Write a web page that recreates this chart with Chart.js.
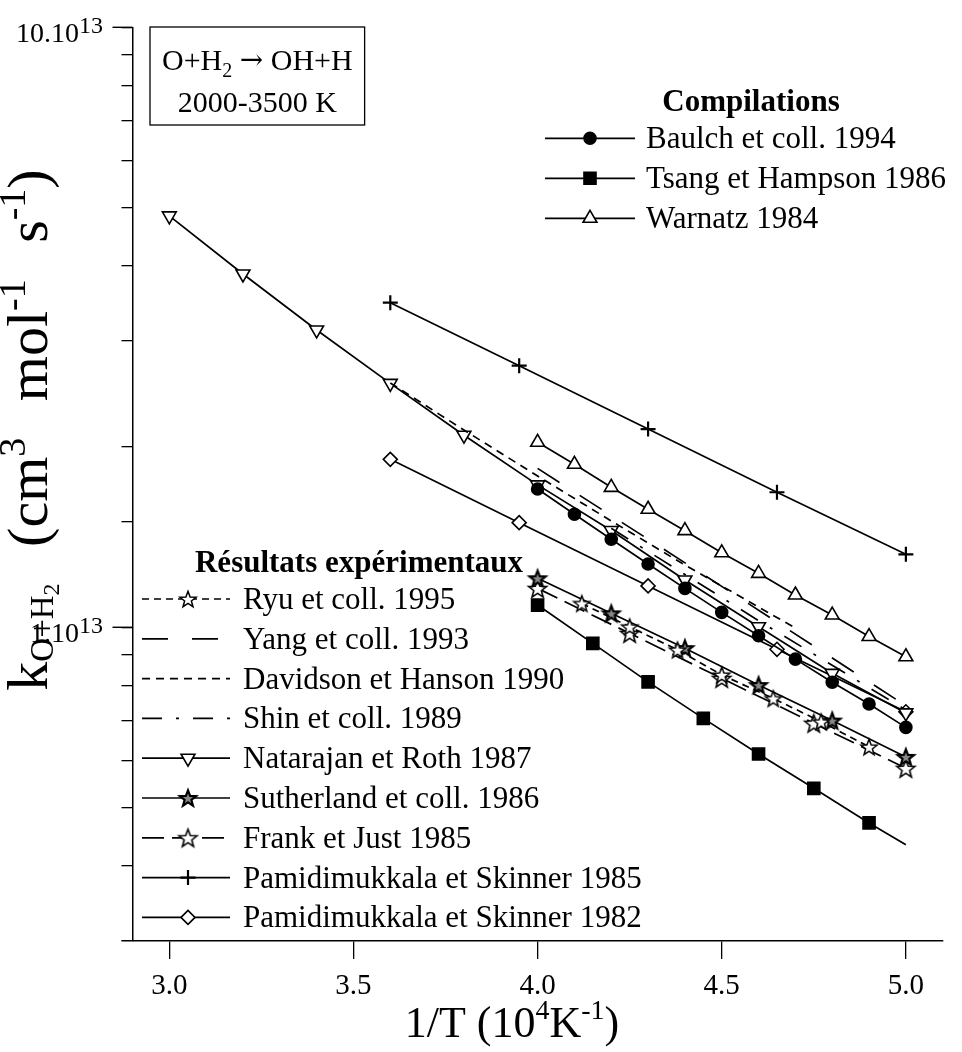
<!DOCTYPE html>
<html><head><meta charset="utf-8">
<script src="https://cdn.jsdelivr.net/npm/chart.js@4.4.0/dist/chart.umd.min.js"></script>
<style>html,body{margin:0;padding:0;background:#fff;}#wrap{width:962px;height:1052px;}</style>
</head><body><div id="wrap"><canvas id="c" width="962" height="1052"></canvas></div>
<script>
// ---------- data (k in units of 10^13 cm3 mol-1 s-1, x = 1/T in 10^-4 K^-1) ----------
const xTickValues = [3.0, 3.5, 4.0, 4.5, 5.0];
const yLabelValues = [10, 1];
const yLabelMantissa = ['10.10', '1.10'];
const yLabelExponent = ['13', '13'];

const baulchX = [4.0, 4.1, 4.2, 4.3, 4.4, 4.5, 4.6, 4.7, 4.8, 4.9, 5.0];
const baulchK = [1.70, 1.543, 1.402, 1.275, 1.161, 1.059, 0.968, 0.885, 0.810, 0.745, 0.681];
const tsangX = [4.0, 4.15, 4.3, 4.45, 4.6, 4.75, 4.9, 5.0];
const tsangK = [1.089, 0.940, 0.811, 0.705, 0.615, 0.539, 0.472, 0.434];
const warnatzX = [4.0, 4.1, 4.2, 4.3, 4.4, 4.5, 4.6, 4.7, 4.8, 4.9, 5.0];
const warnatzK = [2.034, 1.869, 1.711, 1.573, 1.449, 1.331, 1.230, 1.132, 1.048, 0.965, 0.893];

const ryuX = [4.12, 4.25, 4.38, 4.5, 4.64, 4.77, 4.9];
const ryuK = [1.096, 1.002, 0.917, 0.833, 0.761, 0.696, 0.632];
const yangX = [4.0, 4.5, 5.0];
const yangK = [1.84, 1.17, 0.74];
const davidsonX = [3.6, 3.8, 4.0, 4.2, 4.4, 4.7];
const davidsonK = [2.554, 2.132, 1.787, 1.504, 1.270, 0.997];
const shinX = [4.2, 4.6, 5.0];
const shinK = [1.462, 1.026, 0.728];
const natarajanX = [3.0, 3.2, 3.4, 3.6, 3.8, 4.0, 4.2, 4.4, 4.6, 4.8, 5.0];
const natarajanK = [4.85, 3.88, 3.13, 2.55, 2.09, 1.727, 1.45, 1.199, 1.002, 0.838, 0.72];
const sutherlandX = [4.0, 4.2, 4.4, 4.6, 4.8, 5.0];
const sutherlandK = [1.207, 1.055, 0.923, 0.801, 0.699, 0.608];
const frankX = [4.0, 4.25, 4.5, 4.75, 5.0];
const frankK = [1.161, 0.977, 0.822, 0.692, 0.582];
const pamid85X = [3.6, 3.95, 4.3, 4.65, 5.0];
const pamid85K = [3.475, 2.729, 2.14, 1.679, 1.323];
const pamid82X = [3.6, 3.95, 4.3, 4.65, 5.0];
const pamid82K = [1.905, 1.494, 1.172, 0.919, 0.723];

const compilationsTitle = 'Compilations';
const experimentsTitle = 'Résultats expérimentaux';
const compilationLabels = ['Baulch et coll. 1994', 'Tsang et Hampson 1986', 'Warnatz 1984'];
const experimentLabels = ['Ryu et coll. 1995', 'Yang et coll. 1993', 'Davidson et Hanson 1990', 'Shin et coll. 1989',
  'Natarajan et Roth 1987', 'Sutherland et coll. 1986', 'Frank et Just 1985', 'Pamidimukkala et Skinner 1985', 'Pamidimukkala et Skinner 1982'];

// ---------- styling ----------
const FONT = "'Liberation Serif', 'Times New Roman', Times, serif";
const ARROW_FONT = "'DejaVu Serif', 'Liberation Serif', serif";

function makeStar(R, ratio, lw, fill) {
  const size = Math.ceil(2 * R + lw * 2 + 4);
  const c = document.createElement('canvas');
  c.width = size; c.height = size;
  const g = c.getContext('2d');
  const cx = size / 2, cy = size / 2 + R * 0.1;
  g.beginPath();
  for (let i = 0; i < 10; i++) {
    const r = i % 2 === 0 ? R : R * ratio;
    const a = -Math.PI / 2 + i * Math.PI / 5;
    const px = cx + r * Math.cos(a), py = cy + r * Math.sin(a);
    if (i === 0) g.moveTo(px, py); else g.lineTo(px, py);
  }
  g.closePath();
  g.fillStyle = fill; g.fill();
  g.lineWidth = lw; g.strokeStyle = '#000'; g.lineJoin = 'miter'; g.stroke();
  return c;
}
const starRyu = makeStar(8.5, 0.42, 1.5, '#fff');
const starSuth = makeStar(8.5, 0.42, 2.2, '#888');
const starFrank = makeStar(9.5, 0.42, 1.6, '#fff');

function series(label, xs, ks, style) {
  return Object.assign({
    label, data: xs.map((x, i) => ({ x: x, y: ks[i] })),
    borderColor: '#000', backgroundColor: '#fff', pointBackgroundColor: '#fff', pointBorderColor: '#000',
    borderWidth: 1.7, pointBorderWidth: 1.6, tension: 0, fill: false, pointRadius: 0,
    legendRadius: 0
  }, style);
}

const datasets = [
  series(compilationLabels[0], baulchX, baulchK, { pointStyle: 'circle', pointRadius: 6, legendRadius: 6, pointBackgroundColor: '#000', legendFill: '#000' }),
  series(compilationLabels[1], tsangX, tsangK, { pointStyle: 'rect', pointRadius: (c) => c.dataIndex === tsangX.length - 1 ? 0 : 8.5, legendRadius: 8.5, pointBackgroundColor: '#000', legendFill: '#000' }),
  series(compilationLabels[2], warnatzX, warnatzK, { pointStyle: 'triangle', pointRadius: 8, legendRadius: 8 }),
  series(experimentLabels[0], ryuX, ryuK, { pointStyle: starRyu, pointRadius: 8, legendRadius: 8, borderDash: [7, 5] }),
  series(experimentLabels[1], yangX, yangK, { borderDash: [26, 24] }),
  series(experimentLabels[2], davidsonX, davidsonK, { borderDash: [8, 6] }),
  series(experimentLabels[3], shinX, shinK, { borderDash: [20, 14, 3, 14] }),
  series(experimentLabels[4], natarajanX, natarajanK, { pointStyle: 'triangle', pointRotation: 180, legendRotation: 180, pointRadius: 8, legendRadius: 8 }),
  series(experimentLabels[5], sutherlandX, sutherlandK, { pointStyle: starSuth, pointRadius: 8, legendRadius: 8 }),
  series(experimentLabels[6], frankX, frankK, { pointStyle: starFrank, pointRadius: 9, legendRadius: 9, borderDash: [22, 8] }),
  series(experimentLabels[7], pamid85X, pamid85K, { pointStyle: 'cross', pointRadius: 7.5, legendRadius: 7.5, pointBorderWidth: 2.2 }),
  series(experimentLabels[8], pamid82X, pamid82K, { pointStyle: 'rectRot', pointRadius: 7, legendRadius: 7 })
];

// ---------- rich text helper ----------
// part = [text, size, dy, weight, family, extraAdvance]
function setFont(ctx, p) { ctx.font = (p[3] || '') + ' ' + p[1] + 'px ' + (p[4] || FONT); }
function partsWidth(ctx, parts) {
  let w = 0;
  parts.forEach(p => { setFont(ctx, p); w += ctx.measureText(p[0]).width + (p[5] || 0); });
  return w;
}
function drawRich(ctx, parts, x, y, align) {
  const w = partsWidth(ctx, parts);
  let cx = align === 'center' ? x - w / 2 : (align === 'right' ? x - w : x);
  ctx.textAlign = 'left'; ctx.textBaseline = 'alphabetic';
  parts.forEach(p => {
    setFont(ctx, p);
    cx += (p[5] || 0);
    ctx.fillText(p[0], cx, y + (p[2] || 0));
    cx += ctx.measureText(p[0]).width;
  });
  return w;
}
function marker(ctx, ds, x, y) {
  ctx.save();
  ctx.setLineDash([]);
  ctx.fillStyle = ds.legendFill || '#fff';
  ctx.strokeStyle = '#000';
  ctx.lineWidth = ds.pointBorderWidth;
  const opts = { pointStyle: ds.pointStyle, rotation: ds.legendRotation || 0, radius: ds.legendRadius, borderWidth: ds.pointBorderWidth };
  if (ds.legendRadius > 0) Chart.helpers.drawPoint(ctx, opts, x, y);
  ctx.restore();
}
function legendRow(ctx, ds, x1, x2, mx, tx, y, label) {
  ctx.save();
  ctx.strokeStyle = '#000'; ctx.lineWidth = ds.borderWidth;
  ctx.setLineDash(ds.borderDash || []);
  ctx.beginPath(); ctx.moveTo(x1, y); ctx.lineTo(x2, y); ctx.stroke();
  ctx.restore();
  marker(ctx, ds, mx, y);
  ctx.fillStyle = '#000';
  ctx.font = '31px ' + FONT; ctx.textAlign = 'left'; ctx.textBaseline = 'alphabetic';
  ctx.fillText(label, tx, y + 10);
}

const decorPlugin = {
  id: 'decor',
  afterDraw(chart) {
    const ctx = chart.ctx;
    const ys = chart.scales.y;
    ctx.save();
    ctx.fillStyle = '#000'; ctx.strokeStyle = '#000';
    // major y ticks (longer) and their labels
    yLabelValues.forEach((v, i) => {
      const py = ys.getPixelForValue(v);
      ctx.lineWidth = 1.4;
      ctx.beginPath(); ctx.moveTo(ys.right - 20, py); ctx.lineTo(ys.right, py); ctx.stroke();
      drawRich(ctx, [[yLabelMantissa[i], 28, 0], [yLabelExponent[i], 24, -9]], 103, py + 14.5, 'right');
    });
    // x axis title
    drawRich(ctx, [['1/T (10', 44, 0], ['4', 28, -18], ['K', 44, 0], ['-1', 28, -18], [')', 44, 0]], 512, 1037, 'center');
    // y axis title (rotated)
    ctx.save();
    ctx.translate(47, 430);
    ctx.rotate(-Math.PI / 2);
    drawRich(ctx, [['k', 58, 0], ['O+H', 33, 6], ['2', 24, 12], [' (cm', 58, 0, '', null, 22], ['3', 38, -22],
      [' mol', 58, 0, '', null, 22], ['-1', 38, -22], [' s', 58, 0, '', null, 22], ['-1', 38, -22], [')', 58, 0]], 0, 0, 'center');
    ctx.restore();
    // reaction box
    const l1 = [['O+H', 30, 0], ['2', 20, 7], [' ', 30, 0], ['\u2192', 28, -1, '', ARROW_FONT], [' OH+H', 30, 0]];
    const l2 = [['2000-3500 K', 30, 0]];
    const w1 = partsWidth(ctx, l1), w2 = partsWidth(ctx, l2);
    const bw = Math.max(w1, w2) + 24;
    const bx = 150, by = 27, bh = 98;
    ctx.lineWidth = 1.3;
    ctx.strokeRect(bx, by, bw, bh);
    drawRich(ctx, l1, bx + bw / 2, 70, 'center');
    drawRich(ctx, l2, bx + bw / 2, 111.5, 'center');
    // compilations legend
    ctx.font = 'bold 31px ' + FONT; ctx.textAlign = 'center'; ctx.textBaseline = 'alphabetic';
    ctx.fillText(compilationsTitle, 751, 111);
    for (let i = 0; i < 3; i++) {
      legendRow(ctx, chart.data.datasets[i], 545, 635, 590, 646, 138.3 + i * 40, compilationLabels[i]);
    }
    // experimental legend
    ctx.font = 'bold 31px ' + FONT; ctx.textAlign = 'center'; ctx.textBaseline = 'alphabetic';
    ctx.fillStyle = '#000';
    ctx.fillText(experimentsTitle, 359, 571.5);
    for (let i = 0; i < 9; i++) {
      legendRow(ctx, chart.data.datasets[3 + i], 142, 230, 188, 243, 599 + i * 39.8, experimentLabels[i]);
    }
    ctx.restore();
  }
};

new Chart(document.getElementById('c'), {
  type: 'line',
  data: { datasets: datasets },
  options: {
    responsive: false,
    animation: false,
    devicePixelRatio: 1,
    layout: { padding: { top: 27.3, right: 19.3, left: 0, bottom: 0 } },
    plugins: { legend: { display: false }, tooltip: { enabled: false } },
    elements: { line: { borderCapStyle: 'butt' } },
    scales: {
      x: {
        type: 'linear', min: 2.9, max: 5.1,
        afterFit: (s) => { s.height = 111; },
        afterBuildTicks: (s) => { s.ticks = xTickValues.map(v => ({ value: v })); },
        border: { display: true, color: '#000', width: 1.5 },
        grid: { drawOnChartArea: false, drawTicks: true, tickLength: 18, color: '#000', lineWidth: 1.3 },
        ticks: { color: '#000', font: { family: FONT, size: 29 }, padding: 10, maxRotation: 0, autoSkip: false,
          callback: (v) => Number(v).toFixed(1) }
      },
      y: {
        type: 'logarithmic', min: 0.3, max: 10,
        afterFit: (s) => { s.width = 132.5; },
        border: { display: true, color: '#000', width: 1.5 },
        grid: { drawOnChartArea: false, drawTicks: true, tickLength: 11, color: '#000', lineWidth: 1.3 },
        ticks: { autoSkip: false, callback: () => '' }
      }
    }
  },
  plugins: [decorPlugin]
});
</script>
</body></html>
